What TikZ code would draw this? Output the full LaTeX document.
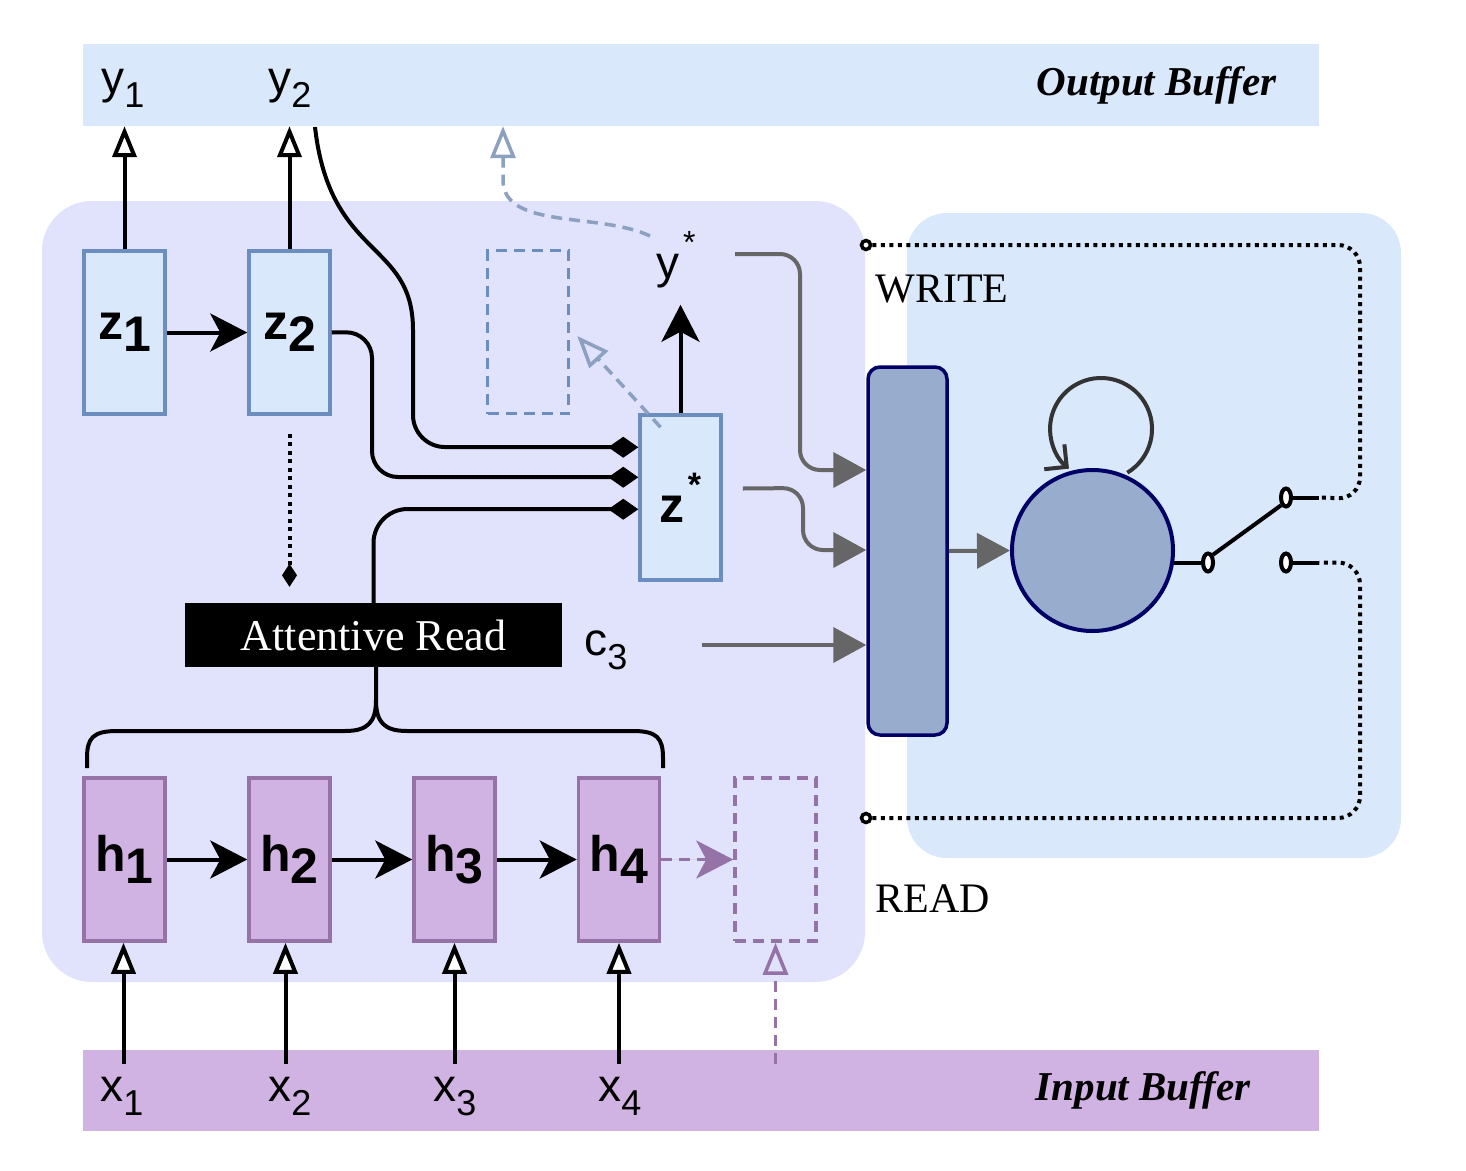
\documentclass[tikz,border=0pt]{standalone}
\usepackage{fontspec}
\setmainfont{Liberation Serif}
\newfontfamily\sansf{Liberation Sans}
\usetikzlibrary{arrows.meta,shapes.geometric,calc}
\definecolor{bufblue}{RGB}{218,232,252}
\definecolor{panelv}{RGB}{225,226,252}
\definecolor{bufpurple}{RGB}{209,179,227}
\definecolor{hstroke}{RGB}{150,115,166}
\definecolor{zstroke}{RGB}{108,142,191}
\definecolor{dashblue}{RGB}{140,160,192}
\definecolor{catfill}{RGB}{152,173,205}
\definecolor{navy}{RGB}{0,0,102}
\definecolor{grayln}{RGB}{102,102,102}
\definecolor{loopc}{RGB}{51,51,51}
\newcommand\slbl[2]{{\sansf\fontsize{46}{46}\selectfont #1\raisebox{-14pt}{\fontsize{36}{36}\selectfont #2}}}
\newcommand\blbl[2]{{\sansf\bfseries\fontsize{50}{50}\selectfont #1\raisebox{-12pt}{#2}}}
\begin{document}
\begin{tikzpicture}[x=1pt,y=-1pt,
  zbox/.style={draw=zstroke, fill=bufblue, line width=3.5pt, minimum width=81pt, minimum height=163pt, inner sep=0pt},
  hbox/.style={draw=hstroke, fill=bufpurple, line width=3.5pt, minimum width=81pt, minimum height=163pt, inner sep=0pt},
  dzbox/.style={draw=zstroke, line width=3.5pt, dash pattern=on 11pt off 7pt, minimum width=81pt, minimum height=163pt, inner sep=0pt},
  dhbox/.style={draw=hstroke, line width=3.5pt, dash pattern=on 11pt off 7pt, minimum width=81pt, minimum height=163pt, inner sep=0pt},
  conn/.style={line width=4pt, draw=black},
  openarr/.style={-{Triangle[length=31pt,width=24pt,fill=white]}},
  openc/.style={-{Triangle[open,length=32pt,width=25pt]}},
  fillarr/.style={-{Stealth[length=37pt,width=38pt,inset=10pt]}},
  diarr/.style={-{Diamond[length=30pt,width=21pt]}},
  grayarr/.style={line width=4pt, draw=grayln, -{Triangle[length=33pt,width=35pt]}},
  dotln/.style={line width=4pt, dash pattern=on 4pt off 4.5pt},
  dashln/.style={line width=3.5pt, dash pattern=on 11pt off 7pt},
  ring/.style={circle, draw, fill=white, line width=3.5pt, minimum size=9pt, inner sep=0pt},
  contact/.style={ellipse, draw, fill=white, line width=4pt, minimum width=10pt, minimum height=18pt, inner sep=0pt},
  lbl/.style={inner sep=2pt},
  serif40/.style={font=\fontsize{42}{42}\selectfont}
]
\useasboundingbox (0,0) rectangle (1466,1170);
\fill[white] (0,0) rectangle (1466,1170);
% panels
\fill[panelv, rounded corners=50pt] (42,201) rectangle (865,982);
\fill[bufblue, rounded corners=40pt] (907,213) rectangle (1401,858);
% buffers
\node[fill=bufblue, minimum width=1236pt, minimum height=82pt, inner sep=0pt] (ob) at (701,85) {};
\node[fill=bufpurple, minimum width=1236pt, minimum height=81pt, inner sep=0pt] (ib) at (701,1090.5) {};
\node[anchor=base east, font=\bfseries\itshape\fontsize{41}{41}\selectfont] (obt) at (1280,95) {Output Buffer};
\node[anchor=base east, font=\bfseries\itshape\fontsize{41}{41}\selectfont] (ibt) at (1254,1100) {Input Buffer};
% labels
\node[lbl, anchor=base] (y1) at (123,93) {\slbl{y}{1}};
\node[lbl, anchor=base] (y2) at (290,93) {\slbl{y}{2}};
\node[lbl, anchor=base] (x1) at (122,1101) {\slbl{x}{1}};
\node[lbl, anchor=base] (x2) at (290,1101) {\slbl{x}{2}};
\node[lbl, anchor=base] (x3) at (455,1101) {\slbl{x}{3}};
\node[lbl, anchor=base] (x4) at (620,1101) {\slbl{x}{4}};
\node[lbl, anchor=base] (c3) at (606,655) {\slbl{c}{3}};
\node[inner sep=0pt, anchor=base west] (ys) at (656,278) {\sansf\fontsize{46}{46}\selectfont y\hspace{4pt}\raisebox{25pt}{\fontsize{32}{32}\selectfont *}};
\node[anchor=base west, serif40] (wt) at (872,302) {WRITE};
\node[anchor=base west, serif40] (rt) at (872,912) {READ};
% boxes
\node[zbox] (z1) at (124.5,332.5) {\blbl{z}{1}};
\node[zbox] (z2) at (289.5,332.5) {\blbl{z}{2}};
\node[zbox, minimum height=165pt] (zs) at (680.5,497.5) {\sansf\bfseries\fontsize{50}{50}\selectfont z\hspace{3pt}\raisebox{26pt}{\fontsize{34}{34}\selectfont *}};
\node[dzbox] (db) at (528,332) {};
\node[hbox] (h1) at (124.5,859.5) {\blbl{h}{1}};
\node[hbox] (h2) at (289.5,859.5) {\blbl{h}{2}};
\node[hbox] (h3) at (454.5,859.5) {\blbl{h}{3}};
\node[hbox] (h4) at (619,859.5) {\blbl{h}{4}};
\node[dhbox] (dh) at (775.5,859.5) {};
\node[fill=black, text=white, minimum width=377pt, minimum height=64pt, inner sep=0pt, font=\fontsize{44}{44}\selectfont] (ar) at (373.5,635) {Attentive Read};
% right part
\node[draw=navy, fill=catfill, line width=3.5pt, rounded corners=12pt, minimum width=79pt, minimum height=368pt, inner sep=0pt] (cat) at (907.5,551) {};
\node[contact] (piv) at (1208,562.5) {};
\draw[conn] (piv.west) -- (1150,562.5);
\node[circle, draw=navy, fill=catfill, line width=4pt, minimum size=161pt, inner sep=0pt] (rnn) at (1092.5,550.5) {};
\draw[line width=4pt, loopc, -{Straight Barb[length=16pt,width=32pt]}] ($(rnn.center)+(34.8,-77.8)$) arc[start angle=59, end angle=-231, radius=51];
\node[contact] (c1) at (1286,497.5) {};
\node[contact] (c2) at (1286,562.5) {};
\node[ring] (wr) at (866,245) {};
\node[ring] (rd) at (866,818) {};
% switch
\draw[conn] (piv.north east) -- (c1.south west);
\draw[conn] (c1.east) -- ++(26,0) coordinate (c1e);
\draw[conn] (c2.east) -- ++(26,0) coordinate (c2e);
\draw[dotln, rounded corners=22pt] (wr.east) -- (1360,245) -- (1360,499) -- (c1e);
\draw[dotln, rounded corners=22pt] (rd.east) -- (1360,818) -- (1360,562.5) -- (c2e);
% gray arrows
\coordinate (ysout) at (735,254);
\draw[grayarr, rounded corners=20pt] (ysout) -- (800,254) -- (800,470) -- (cat.west |- 0,470);
\draw[grayarr, rounded corners=20pt] ($(zs.east)+(20,-9)$) -- (803,488) -- (803,550) -- (cat.west |- 0,550);
\draw[grayarr] ($(c3.base)+(96,-10)$) -- (cat.west |- 0,645);
\draw[grayarr] (cat.east) -- (rnn.west);
% decoder arrows
\draw[conn, openarr] (z1.north) -- (z1.north |- ob.south);
\draw[conn, openarr] (z2.north) -- (z2.north |- ob.south);
\draw[conn, fillarr] (z1) -- (z2);
\draw[conn, fillarr, shorten >=17pt] (zs.north) -- (zs.north |- ys.south);
\coordinate (y2out) at (315,127);
\draw[conn, diarr] (y2out) .. controls (330,260) and (413,240) .. (413,330) [rounded corners=32pt] -- (413,447) -- ($(zs.north west)+(0,34)$);
\draw[conn, diarr, rounded corners=26pt] (z2.east) -- (372,332) -- (372,477) -- ($(zs.north west)+(0,64)$);
\draw[conn, diarr, rounded corners=34pt] (ar.north) -- (373.5,509) -- ($(zs.north west)+(0,96)$);
\draw[dotln, -{Diamond[length=23pt,width=15pt]}] ($(z2.south)+(0,18)$) -- ($(z2.south |- ar.north)+(0,-16)$);
% dashed blue
\draw[dashln, draw=dashblue, openc] ($(zs.north)+(-20,14)$) -- ($(db.east)+(7,4)$);
\coordinate (ysdash) at (650,236);
\draw[dashln, draw=dashblue, openc] (ysdash) .. controls (600,212) and (503,230) .. (503,180) -- (503,0 |- ob.south);
% brace
\draw[conn] ($(ar.south)+(2.5,0)$) -- (376,700) .. controls (376,722) and (368,731) .. (345,731) -- (117,731) .. controls (93,731) and (87,738) .. (87,758) -- (87,768);
\draw[conn] (376,700) .. controls (376,722) and (384,731) .. (407,731) -- (633,731) .. controls (657,731) and (663,738) .. (663,758) -- (663,768);
% encoder arrows
\draw[conn, fillarr] (h1) -- (h2);
\draw[conn, fillarr] (h2) -- (h3);
\draw[conn, fillarr] (h3) -- (h4);
\draw[dashln, draw=hstroke, -{Stealth[length=37pt,width=38pt,inset=10pt]}, fill=hstroke] (h4) -- (dh);
\draw[conn, openarr] ($(h1.south)+(-1,121)$) -- ($(h1.south)+(-1,0)$);
\draw[conn, openarr] ($(h2.south)+(-4,121)$) -- ($(h2.south)+(-4,0)$);
\draw[conn, openarr] ($(h3.south)+(0,121)$) -- (h3.south);
\draw[conn, openarr] ($(h4.south)+(0,121)$) -- (h4.south);
\draw[dashln, draw=hstroke, openc] ($(dh.south)+(0,121)$) -- (dh.south);
\end{tikzpicture}
\end{document}
